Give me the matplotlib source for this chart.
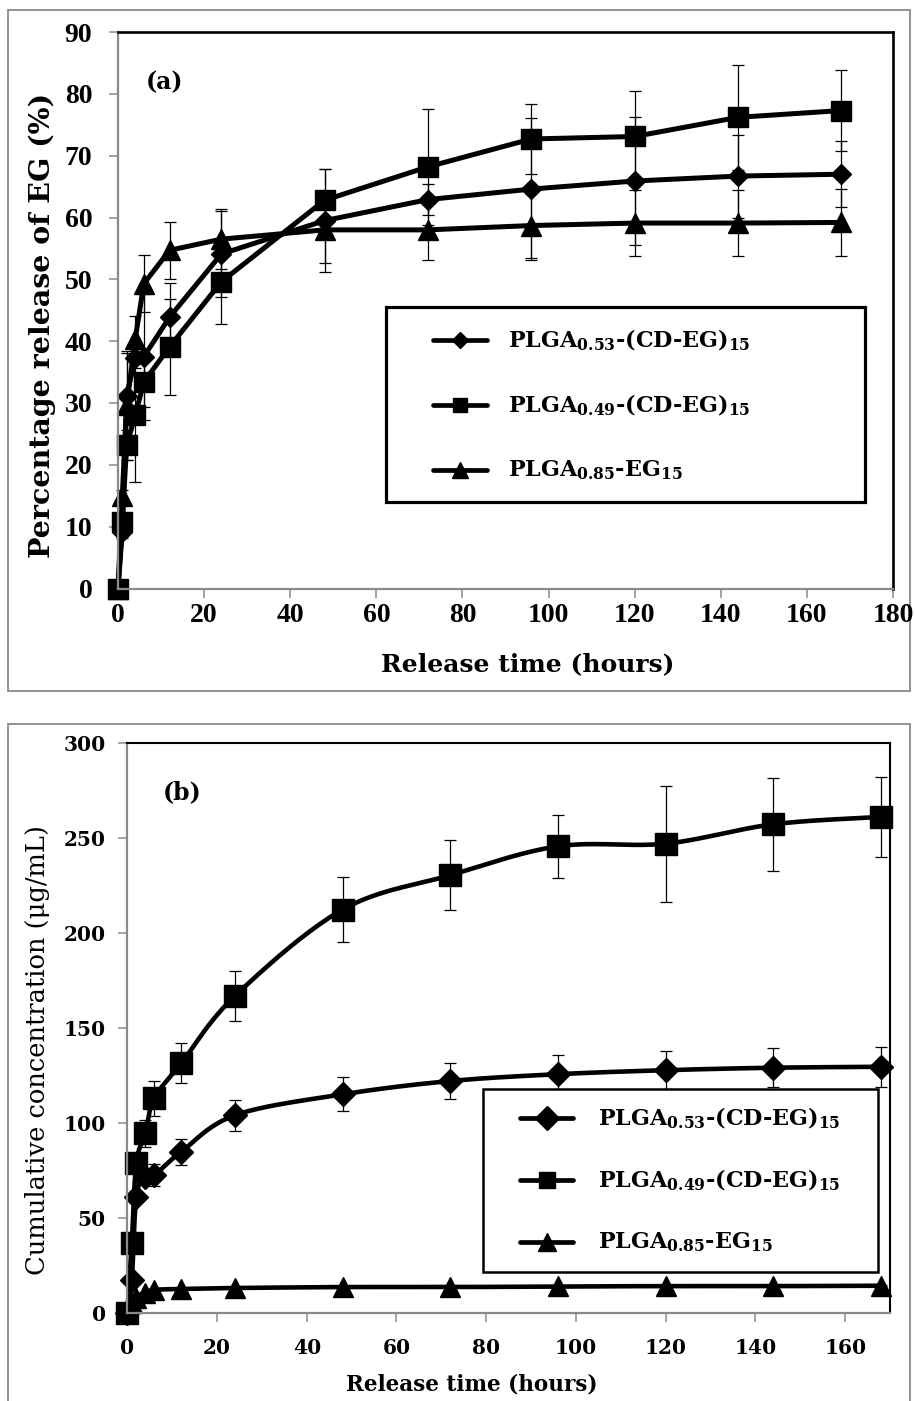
import numpy as np
import matplotlib
matplotlib.use('Agg')
import matplotlib.pyplot as plt
from matplotlib.lines import Line2D
from matplotlib.patches import Rectangle

plt.rcParams['mathtext.fontset'] = 'dejavuserif'

# ---------------- data ----------------
time_h = [0, 1, 2, 4, 6, 12, 24, 48, 72, 96, 120, 144, 168]
series_labels = [r'PLGA$_{\mathbf{0.53}}$-(CD-EG)$_{\mathbf{15}}$',
                 r'PLGA$_{\mathbf{0.49}}$-(CD-EG)$_{\mathbf{15}}$',
                 r'PLGA$_{\mathbf{0.85}}$-EG$_{\mathbf{15}}$']

# (a) percentage release of EG (%)
pct_d = [0, 9.2, 31.2, 37.2, 37.5, 43.9, 54.1, 59.5, 62.9, 64.6, 65.9, 66.7, 67.0]
pct_d_err = [0, 1.0, 6.9, 1.5, 10.2, 5.5, 7.0, 8.3, 2.5, 11.5, 10.4, 6.7, 5.3]
pct_s = [0, 10.8, 23.2, 28.0, 33.4, 39.1, 49.6, 62.8, 68.2, 72.7, 73.1, 76.2, 77.3]
pct_s_err = [0, 1.0, 2.4, 10.8, 4.0, 7.8, 6.8, 5.0, 9.4, 5.7, 7.3, 8.5, 6.5]
pct_t = [0, 15.0, 29.6, 40.3, 49.3, 54.7, 56.5, 58.0, 58.0, 58.7, 59.1, 59.1, 59.2]
pct_t_err = [0, 1.0, 8.8, 3.8, 4.6, 4.6, 4.9, 5.3, 4.8, 5.3, 5.4, 5.4, 5.4]

# (b) cumulative concentration (ug/mL)
conc_d = [0, 17, 61, 71.6, 72.5, 84.7, 104, 115, 122, 125.6, 127.7, 129, 129.5]
conc_d_err = [0, 1, 2, 3, 5.7, 6.8, 8.2, 9, 9.5, 10, 10, 10.2, 10.5]
conc_s = [0, 36.8, 78.6, 94.4, 112.8, 131.3, 166.8, 212.3, 230.4, 245.6, 247, 257.2, 261.1]
conc_s_err = [0, 1, 2, 7, 9, 10.5, 13.3, 17, 18.5, 16.7, 30.5, 24.5, 21]
conc_t = [0, 5, 8, 10.5, 12, 12.5, 13, 13.5, 13.5, 13.8, 14, 14, 14.2]
conc_t_err = [0, 0.5, 0.5, 0.5, 0.5, 0.5, 0.5, 0.5, 0.5, 0.5, 0.5, 0.5, 0.5]

xticks_a = list(range(0, 181, 20))
yticks_a = list(range(0, 91, 10))
xticks_b = list(range(0, 161, 20))
yticks_b = list(range(0, 301, 50))

# ---------------- layout helpers ----------------
W, H = 915, 1401
fig = plt.figure(figsize=(W / 100, H / 100), dpi=100)


def fx(x):
    return x / W


def fy(y):
    return 1 - y / H


def axes_px(left, top, right, bottom):
    return fig.add_axes([fx(left), fy(bottom), (right - left) / W, (bottom - top) / H])


GREY = '#8a8a8a'

# outer chart frames
fig.add_artist(Rectangle((fx(8), fy(691)), (910 - 8) / W, (691 - 10) / H, transform=fig.transFigure,
                         fill=False, edgecolor=GREY, lw=1.3, zorder=0))
fig.add_artist(Rectangle((fx(8), fy(1405)), (910 - 8) / W, (1405 - 724) / H, transform=fig.transFigure,
                         fill=False, edgecolor=GREY, lw=1.3, zorder=0))


def style_axes(ax, frame_lw, axis_lw):
    for s in ['top', 'right']:
        ax.spines[s].set_color('black')
        ax.spines[s].set_linewidth(frame_lw)
    for s in ['left', 'bottom']:
        ax.spines[s].set_color(GREY)
        ax.spines[s].set_linewidth(axis_lw)
    ax.tick_params(direction='out', color=GREY, length=6.5, width=1.1)


def unclip(container):
    data_line, caplines, barcols = container.lines
    if data_line is not None:
        data_line.set_clip_on(False)
    for c in caplines:
        c.set_clip_on(False)
    for b in barcols:
        b.set_clip_on(False)


def smooth(x, y, sx, sy, n=24):
    P = np.column_stack([np.asarray(x, float) * sx, np.asarray(y, float) * sy])
    out = []
    for i in range(len(P) - 1):
        p0 = P[i - 1] if i > 0 else P[i]
        p1, p2 = P[i], P[i + 1]
        p3 = P[i + 2] if i + 2 < len(P) else P[i + 1]
        c1 = p1 + (p2 - p0) / 6.0
        c2 = p2 - (p3 - p1) / 6.0
        t = np.linspace(0, 1, n, endpoint=False)[:, None]
        out.append((1 - t) ** 3 * p1 + 3 * (1 - t) ** 2 * t * c1 + 3 * (1 - t) * t ** 2 * c2 + t ** 3 * p2)
    out.append(P[-1:])
    Q = np.vstack(out)
    return Q[:, 0] / sx, Q[:, 1] / sy


def draw_legend(box, rows, lx0, lx1, tx, specs, fs, blw):
    x0, y0, x1, y1 = box
    fig.add_artist(Rectangle((fx(x0), fy(y1)), (x1 - x0) / W, (y1 - y0) / H, transform=fig.transFigure,
                             facecolor='white', edgecolor='black', lw=blw, zorder=5))
    for ry, (mk, ms, lab) in zip(rows, specs):
        fig.add_artist(Line2D([fx(lx0), fx(lx1)], [fy(ry), fy(ry)], transform=fig.transFigure,
                              color='black', lw=3.4, solid_capstyle='round', zorder=6))
        fig.add_artist(Line2D([fx((lx0 + lx1) / 2)], [fy(ry)], transform=fig.transFigure, marker=mk,
                              markersize=ms, color='black', lw=0, zorder=7))
        fig.text(fx(tx), fy(ry), lab, fontsize=fs, fontweight='bold', family='DejaVu Serif',
                 ha='left', va='center', zorder=8)


# ---------------- panel (a) ----------------
axa = axes_px(118, 32, 893, 588.5)
style_axes(axa, 1.9, 1.6)
ekw = dict(ecolor='black', elinewidth=0.9, capsize=4.5, capthick=0.9)
for yv, ev, mk, ms, z in [(pct_t, pct_t_err, '^', 15, 3), (pct_d, pct_d_err, 'D', 10, 4),
                          (pct_s, pct_s_err, 's', 15, 5)]:
    eb = axa.errorbar(time_h, yv, yerr=ev, color='black', lw=3.6, marker=mk, ms=ms, zorder=z, **ekw)
    unclip(eb)
axa.set_xlim(0, 180)
axa.set_ylim(0, 90)
axa.set_xticks(xticks_a)
axa.set_yticks(yticks_a)
for lab in axa.get_xticklabels() + axa.get_yticklabels():
    lab.set_family('Liberation Serif')
    lab.set_fontweight('bold')
    lab.set_fontsize(20)
axa.tick_params(axis='y', pad=12)
axa.tick_params(axis='x', pad=4)
for sp in axa.spines.values():
    sp.set_zorder(10)
fig.text(fx(528), fy(664), 'Release time (hours)', fontsize=18, fontweight='bold', family='DejaVu Serif',
         ha='center', va='center')
fig.text(fx(42), fy(325), 'Percentage release of EG (%)', fontsize=20.5, fontweight='bold',
         family='DejaVu Serif', ha='center', va='center', rotation=90)
fig.text(fx(165), fy(82), '(a)', fontsize=17, fontweight='bold', family='DejaVu Serif',
         ha='center', va='center')
draw_legend((386, 307, 865, 502), [340, 405, 470], 433, 487, 508,
            [('D', 8, series_labels[0]), ('s', 10, series_labels[1]), ('^', 11, series_labels[2])], 16, 2.3)

# ---------------- panel (b) ----------------
axb = axes_px(127.3, 743, 890, 1312.7)
style_axes(axb, 1.5, 1.6)
sx, sy = 4.49, 1.9
for yv, ev, mk, ms, z in [(conc_t, conc_t_err, '^', 14.5, 3), (conc_d, conc_d_err, 'D', 12, 4),
                          (conc_s, conc_s_err, 's', 16, 5)]:
    xs, ys = smooth(time_h, yv, sx, sy)
    axb.plot(xs, ys, color='black', lw=3.3, zorder=z, clip_on=False)
    eb = axb.errorbar(time_h, yv, yerr=ev, fmt='none', ecolor='black', elinewidth=0.9, capsize=4,
                      capthick=0.9, zorder=z)
    unclip(eb)
    axb.plot(time_h, yv, ls='none', marker=mk, ms=ms, color='black', zorder=z + 0.5, clip_on=False)
axb.set_xlim(0, 170)
axb.set_ylim(0, 300)
axb.set_xticks(xticks_b)
axb.set_yticks(yticks_b)
for lab in axb.get_xticklabels() + axb.get_yticklabels():
    lab.set_family('DejaVu Serif')
    lab.set_fontweight('bold')
    lab.set_fontsize(14.5)
axb.tick_params(axis='y', pad=9)
axb.tick_params(axis='x', pad=12)
for sp in axb.spines.values():
    sp.set_zorder(10)
fig.text(fx(472), fy(1385), 'Release time (hours)', fontsize=15.5, fontweight='bold', family='DejaVu Serif',
         ha='center', va='center')
fig.text(fx(38), fy(1050), 'Cumulative concentration (μg/mL)', fontsize=18.5,
         family='DejaVu Serif', ha='center', va='center', rotation=90)
fig.text(fx(182), fy(792), '(b)', fontsize=17, fontweight='bold', family='DejaVu Serif',
         ha='center', va='center')
draw_legend((483, 1089, 878, 1272), [1118, 1180, 1242], 520, 573, 598,
            [('D', 12, series_labels[0]), ('s', 12, series_labels[1]), ('^', 13, series_labels[2])], 16, 1.8)

fig.savefig('out.png', dpi=100)
